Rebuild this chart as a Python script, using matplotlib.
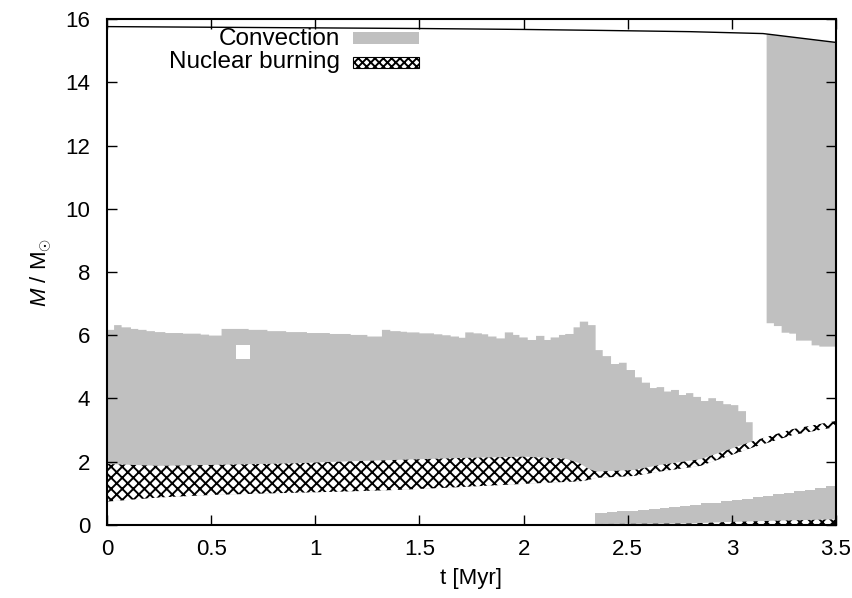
#!/usr/bin/env python3
import numpy as np
import matplotlib
matplotlib.use('Agg')
import matplotlib.pyplot as plt
from matplotlib.patches import Rectangle
from matplotlib.ticker import FuncFormatter

plt.rcParams['font.family'] = 'Liberation Sans'
plt.rcParams['mathtext.fontset'] = 'custom'
plt.rcParams['mathtext.rm'] = 'Liberation Sans'
plt.rcParams['mathtext.it'] = 'Liberation Sans:italic'
plt.rcParams['hatch.linewidth'] = 1.4

grey = '#c0c0c0'

# stellar surface
surf_t = [0.0, 0.5, 1.0, 1.5, 2.0, 2.37, 2.8, 3.15, 3.3, 3.5]
surf_m = [15.76, 15.74, 15.72, 15.70, 15.67, 15.64, 15.60, 15.54, 15.42, 15.26]

# convective core: step start times and upper boundary
core_t = [0.000, 0.034, 0.070, 0.115, 0.150, 0.190, 0.230, 0.280, 0.365, 0.450,
          0.490, 0.550, 0.680, 0.770, 0.860, 0.960, 1.070, 1.170, 1.250, 1.320,
          1.360, 1.410, 1.440, 1.500, 1.570, 1.610, 1.650, 1.690, 1.720, 1.760,
          1.800, 1.830, 1.870, 1.910, 1.950, 1.980, 2.020, 2.060, 2.100, 2.130,
          2.170, 2.200, 2.240, 2.270, 2.310, 2.346, 2.380, 2.420, 2.458, 2.495,
          2.535, 2.568, 2.607, 2.639, 2.675, 2.708, 2.746, 2.780, 2.815, 2.852,
          2.887, 2.924, 2.959, 2.996, 3.031, 3.068, 3.100]
core_top = [6.17, 6.32, 6.25, 6.20, 6.17, 6.13, 6.10, 6.07, 6.05, 6.02,
            5.99, 6.20, 6.17, 6.13, 6.10, 6.07, 6.04, 6.01, 5.96, 6.17,
            6.13, 6.11, 6.09, 6.06, 6.03, 6.00, 5.96, 5.92, 6.09, 6.06,
            6.03, 5.96, 5.90, 6.09, 6.01, 5.93, 5.85, 5.98, 5.85, 5.93,
            6.01, 6.04, 6.25, 6.43, 6.32, 5.53, 5.34, 5.09, 5.13, 4.90,
            4.67, 4.50, 4.33, 4.36, 4.22, 4.27, 4.11, 4.17, 4.05, 3.92,
            4.01, 3.92, 3.82, 3.79, 3.60, 3.25]

# small non-convective gap
hole_t = [0.62, 0.687]
hole_lo = 5.25
hole_hi = 5.69

# convective envelope: step start times and lower boundary
env_t = [3.167, 3.202, 3.239, 3.276, 3.308, 3.383, 3.420, 3.500]
env_bot = [6.38, 6.29, 6.08, 6.05, 5.83, 5.68, 5.64]

# central convection at late times
shell_t = [2.343, 2.40, 2.45, 2.50, 2.55, 2.60, 2.655, 2.70, 2.75, 2.80, 2.85,
           2.90, 2.95, 3.00, 3.05, 3.10, 3.15, 3.20, 3.25, 3.30, 3.35, 3.40,
           3.45, 3.50]
shell_top = [0.39, 0.41, 0.43, 0.45, 0.47, 0.50, 0.53, 0.56, 0.60, 0.64, 0.68,
             0.71, 0.75, 0.79, 0.83, 0.87, 0.92, 0.97, 1.02, 1.07, 1.12, 1.17,
             1.23]

# hydrogen burning shell
burn_t = [0.0, 0.25, 0.5, 0.9, 1.1, 1.4, 1.7, 2.0, 2.2, 2.27, 2.31, 2.35,
          2.53, 2.655, 2.85, 3.0, 3.1, 3.29, 3.5]
burn_lo = [0.74, 0.87, 0.95, 1.02, 1.05, 1.11, 1.20, 1.30, 1.36, 1.38, 1.42,
           1.49, 1.55, 1.69, 1.87, 2.22, 2.45, 2.84, 3.10]
burn_hi = [1.93, 1.87, 1.90, 1.95, 2.00, 2.06, 2.12, 2.16, 2.10, 1.95, 1.78,
           1.69, 1.74, 1.90, 2.08, 2.42, 2.65, 3.03, 3.29]

# central burning at late times
cburn_t = [2.343, 2.8, 3.0, 3.3, 3.5]
cburn_hi = [0.03, 0.05, 0.10, 0.15, 0.18]

fig = plt.figure(figsize=(8.52, 5.98), dpi=100)
ax = fig.add_axes([0.1256, 0.1221, 0.8556, 0.8461])

# convective core: stepped top, bottom along the burning shell
xs, ys = [], []
for i in range(len(core_top)):
    xs += [core_t[i], core_t[i + 1]]
    ys += [core_top[i], core_top[i]]
lo_end = np.interp(core_t[-1], burn_t, burn_lo)
bt = [t for t in burn_t if t < core_t[-1]]
bl = [m for t, m in zip(burn_t, burn_lo) if t < core_t[-1]]
xs += [core_t[-1]] + bt[::-1]
ys += [lo_end] + bl[::-1]
ax.fill(xs, ys, color=grey, lw=0)
ax.fill_between(hole_t, hole_lo, hole_hi, color='white', lw=0)

# envelope
xs, ys = [], []
for i in range(len(env_bot)):
    xs += [env_t[i], env_t[i + 1]]
    ys += [env_bot[i], env_bot[i]]
st = [t for t in surf_t if t > env_t[0]]
sm = [m for t, m in zip(surf_t, surf_m) if t > env_t[0]]
xs += st[::-1] + [env_t[0]]
ys += sm[::-1] + [np.interp(env_t[0], surf_t, surf_m)]
ax.fill(xs, ys, color=grey, lw=0)

# late central convection
ax.fill_between(shell_t, 0, shell_top + [shell_top[-1]], step='post',
                color=grey, lw=0)

# burning regions
ax.fill_between(burn_t, burn_lo, burn_hi, facecolor='white',
                edgecolor='black', hatch='xxx', lw=0)
ax.fill_between(cburn_t, 0, cburn_hi, facecolor='white',
                edgecolor='black', hatch='xxx', lw=0)

ax.plot(surf_t, surf_m, color='black', lw=1)

ax.set_xlim(0, 3.5)
ax.set_ylim(0, 16)
ax.set_xticks(np.arange(0, 3.51, 0.5))
ax.set_yticks(np.arange(0, 16.1, 2))
ax.xaxis.set_major_formatter(FuncFormatter(lambda v, p: '%g' % v))
ax.tick_params(direction='in', top=True, right=True, length=7, width=1,
               labelsize=16)
ax.tick_params(axis='x', pad=10)
ax.tick_params(axis='y', pad=12)
for s in ax.spines.values():
    s.set_linewidth(1.5)
ax.set_xlabel('t [Myr]', fontsize=16, labelpad=6)
ax.set_ylabel(r'$M$ / M$_{\odot}$', fontsize=16, labelpad=8)

# key
ax.text(0.3196, 0.9605, 'Convection', transform=ax.transAxes, ha='right',
        va='center', fontsize=17.5)
ax.text(0.3196, 0.915, 'Nuclear burning', transform=ax.transAxes, ha='right',
        va='center', fontsize=17.5)
ax.add_patch(Rectangle((0.3374, 0.9506), 0.0906, 0.0237,
                       transform=ax.transAxes, color=grey, lw=0))
ax.add_patch(Rectangle((0.3374, 0.903), 0.0906, 0.022,
                       transform=ax.transAxes, facecolor='white',
                       edgecolor='black', hatch='xxxx', lw=0.8))

fig.savefig('out.png', dpi=100)
